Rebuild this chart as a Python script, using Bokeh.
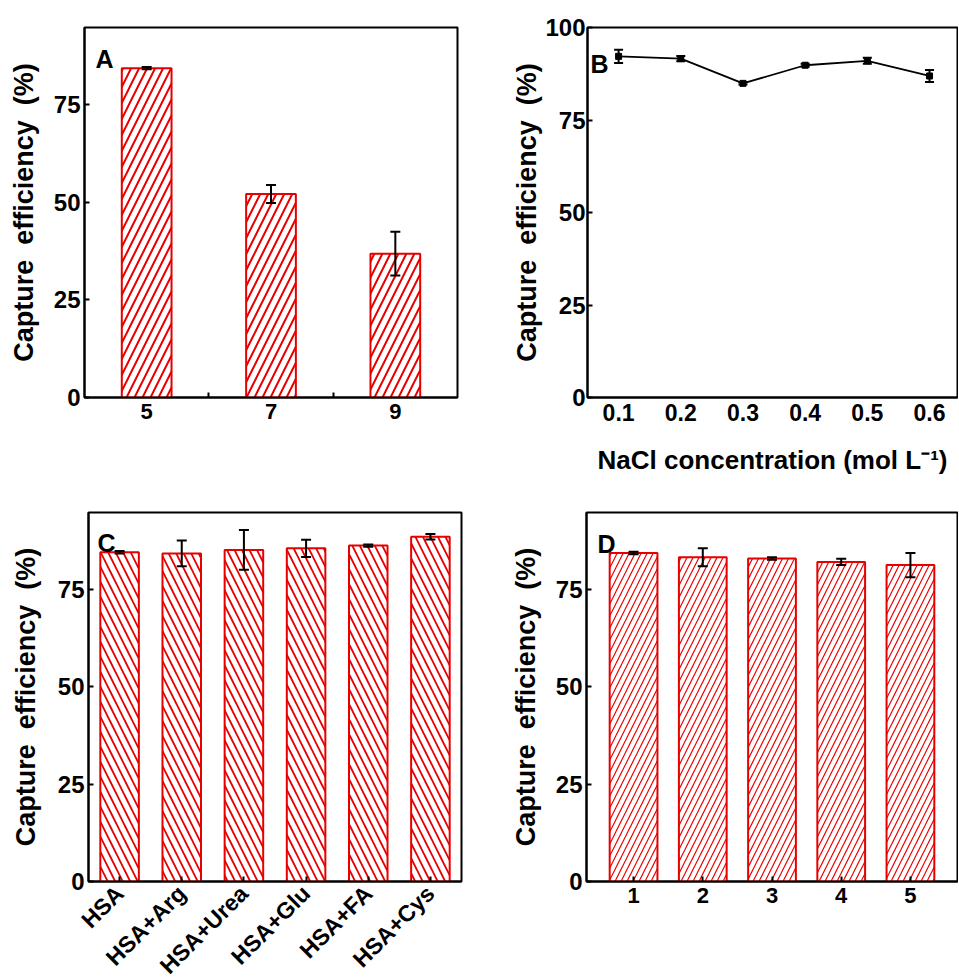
import math
from bokeh.plotting import figure
from bokeh.models import ColumnDataSource, Whisker, TeeHead, FixedTicker, Range1d, Label
from bokeh.layouts import column, row
from bokeh.embed import file_html
from bokeh.resources import INLINE

FONT = "Liberation Sans"
RED = "#e60000"

# ---- data ----
a_ph = ["5", "7", "9"]
a_eff = [84.3, 52.1, 36.8]
a_err = [0.3, 2.3, 5.6]

b_nacl = [0.1, 0.2, 0.3, 0.4, 0.5, 0.6]
b_eff = [92.2, 91.6, 84.9, 89.8, 91.0, 86.9]
b_err = [1.8, 0.7, 0.3, 0.4, 0.8, 1.6]

c_labels = ["HSA", "HSA+Arg", "HSA+Urea", "HSA+Glu", "HSA+FA", "HSA+Cys"]
c_eff = [84.5, 84.2, 85.1, 85.5, 86.2, 88.5]
c_err = [0.3, 3.3, 5.1, 2.2, 0.3, 0.7]

d_cycles = [1, 2, 3, 4, 5]
d_eff = [84.3, 83.2, 82.9, 82.0, 81.2]
d_err = [0.3, 2.3, 0.3, 0.8, 3.1]

y_ticks = [0, 25, 50, 75]
b_y_ticks = [0, 25, 50, 75, 100]
y_label = "Capture\u00a0 efficiency\u00a0 (%)"
b_x_label = "NaCl concentration (mol L\u207b\u00b9)"


def style_fig(p):
    p.xgrid.visible = False
    p.ygrid.visible = False
    p.outline_line_color = "black"
    p.outline_line_width = 2
    p.background_fill_color = "white"
    p.border_fill_color = "white"
    for ax in (p.xaxis[0], p.yaxis[0]):
        ax.axis_line_width = 2
        ax.axis_line_color = "black"
        ax.major_tick_line_width = 2
        ax.minor_tick_line_width = 2
        ax.major_tick_in = 5
        ax.major_tick_out = 0
        ax.minor_tick_in = 0
        ax.minor_tick_out = 0
        ax.major_label_text_font = FONT
        ax.major_label_text_font_style = "bold"
        ax.major_label_text_color = "black"
        ax.axis_label_text_font = FONT
        ax.axis_label_text_font_style = "bold"
        ax.axis_label_text_font_size = "27px"
        ax.axis_label_text_color = "black"
    p.yaxis[0].major_label_text_font_size = "24px"
    p.xaxis[0].major_label_text_font_size = "22px"
    p.yaxis[0].major_label_standoff = 4
    p.xaxis[0].major_label_standoff = 6
    return p


def make_fig(w, h, ml, mr, mt, mb, xr, yr):
    p = figure(width=w, height=h, output_backend="svg", toolbar_location=None,
               x_range=Range1d(*xr), y_range=Range1d(*yr),
               min_border_left=ml, min_border_right=mr,
               min_border_top=mt, min_border_bottom=mb)
    return style_fig(p)


def make_frame_fig(fw, fh, ml, mr, mt, mb, xr, yr):
    p = figure(frame_width=fw, frame_height=fh, output_backend="svg", toolbar_location=None,
               x_range=Range1d(*xr), y_range=Range1d(*yr),
               min_border_left=ml, min_border_right=mr,
               min_border_top=mt, min_border_bottom=mb)
    return style_fig(p)


def letter(p, txt, xr, yr, fw, fh, dx, dy):
    x = xr[0] + dx * (xr[1] - xr[0]) / fw
    y = yr[0] + dy * (yr[1] - yr[0]) / fh
    p.add_layout(Label(x=x, y=y, text=txt, text_font=FONT, text_font_style="bold",
                       text_font_size="25px", text_baseline="alphabetic", text_color="black"))


def errbars(p, xs, ys, es, cap=10):
    src = ColumnDataSource(dict(x=xs, lo=[a - b for a, b in zip(ys, es)], hi=[a + b for a, b in zip(ys, es)]))
    wk = Whisker(base="x", lower="lo", upper="hi", source=src, line_color="black", line_width=2,
                 upper_head=TeeHead(size=cap, line_color="black", line_width=2),
                 lower_head=TeeHead(size=cap, line_color="black", line_width=2), level="annotation")
    p.add_layout(wk)


# ---- Panel A ----
axr = (0.5, len(a_ph) + 0.5)
ayr = (0, 94.7)
pA = make_fig(480, 495, 84, 23, 27, 98, axr, ayr)
ax_pos = [i + 1 for i in range(len(a_ph))]
pA.vbar(x=ax_pos, top=a_eff, width=0.4, fill_color="white", line_color=RED, line_width=2,
        hatch_pattern="/", hatch_color=RED, hatch_weight=2, hatch_scale=16)
errbars(pA, ax_pos, a_eff, a_err)
pA.xaxis[0].ticker = FixedTicker(ticks=ax_pos, minor_ticks=[i + 1.5 for i in range(len(a_ph) - 1)])
pA.xaxis[0].major_label_overrides = {i + 1: s for i, s in enumerate(a_ph)}
pA.xaxis[0].major_tick_in = 0
pA.xaxis[0].minor_tick_in = 5
pA.yaxis[0].ticker = FixedTicker(ticks=y_ticks)
pA.yaxis[0].axis_label = y_label
pA.yaxis[0].axis_label_standoff = 12
letter(pA, "A", axr, ayr, 373, 370, 11, 339)

# ---- Panel B ----
bxr = (0.05, 0.645)
byr = (0, 100)
pB = make_fig(478, 495, 107, 1, 27, 98, bxr, byr)
pB.line(b_nacl, b_eff, line_color="black", line_width=1.8)
pB.scatter(b_nacl, b_eff, marker="square", size=6, color="black")
errbars(pB, b_nacl, b_eff, b_err, cap=9)
pB.xaxis[0].ticker = FixedTicker(ticks=b_nacl)
pB.xaxis[0].major_tick_in = 0
pB.xaxis[0].major_label_text_font_size = "23px"
pB.xaxis[0].axis_label = b_x_label
pB.xaxis[0].axis_label_text_font_size = "26px"
pB.xaxis[0].axis_label_standoff = 21
pB.yaxis[0].ticker = FixedTicker(ticks=b_y_ticks)
pB.yaxis[0].axis_label = y_label
pB.yaxis[0].major_label_standoff = 2
pB.yaxis[0].axis_label_standoff = 0
letter(pB, "B", bxr, byr, 370, 370, 3, 334)

# ---- Panel C (fixed frame; rotated labels may run past the page bottom, as in the original) ----
cxr = (0.5, len(c_labels) + 0.5)
cyr = (0, 94.7)
pC = make_frame_fig(374, 369, 88, 18, 17, 97, cxr, cyr)
cx_pos = [i + 1 for i in range(len(c_labels))]
pC.vbar(x=cx_pos, top=c_eff, width=0.62, fill_color="white", line_color=RED, line_width=2,
        hatch_pattern="\\", hatch_color=RED, hatch_weight=1.8, hatch_scale=15)
errbars(pC, cx_pos, c_eff, c_err)
pC.xaxis[0].ticker = FixedTicker(ticks=cx_pos)
pC.xaxis[0].major_label_overrides = {i + 1: s for i, s in enumerate(c_labels)}
pC.xaxis[0].major_label_orientation = math.pi / 4
pC.xaxis[0].major_label_text_font_size = "23px"
pC.xaxis[0].major_label_standoff = 8
pC.xaxis[0].major_tick_in = 5
pC.yaxis[0].ticker = FixedTicker(ticks=y_ticks)
pC.yaxis[0].axis_label = y_label
pC.yaxis[0].axis_label_standoff = 14
letter(pC, "C", cxr, cyr, 374, 369, 9, 339)

# ---- Panel D (fixed frame) ----
dxr = (0.32, 5.68)
dyr = (0, 94.7)
pD = make_frame_fig(372, 369, 106, 1, 13, 101, dxr, dyr)
pD.vbar(x=d_cycles, top=d_eff, width=0.69, fill_color="white", line_color=RED, line_width=2,
        hatch_pattern="/", hatch_color=RED, hatch_weight=1.2, hatch_scale=12)
errbars(pD, d_cycles, d_eff, d_err)
pD.xaxis[0].ticker = FixedTicker(ticks=d_cycles)
pD.xaxis[0].major_tick_in = 5
pD.yaxis[0].ticker = FixedTicker(ticks=y_ticks)
pD.yaxis[0].axis_label = y_label
pD.yaxis[0].axis_label_standoff = 12
letter(pD, "D", dxr, dyr, 372, 369, 11, 338)

layout = column(row(pA, pB), row(pC, pD), width=958, height=978,
                styles={"overflow": "hidden"})
open("out.html", "w").write(file_html(layout, INLINE))
